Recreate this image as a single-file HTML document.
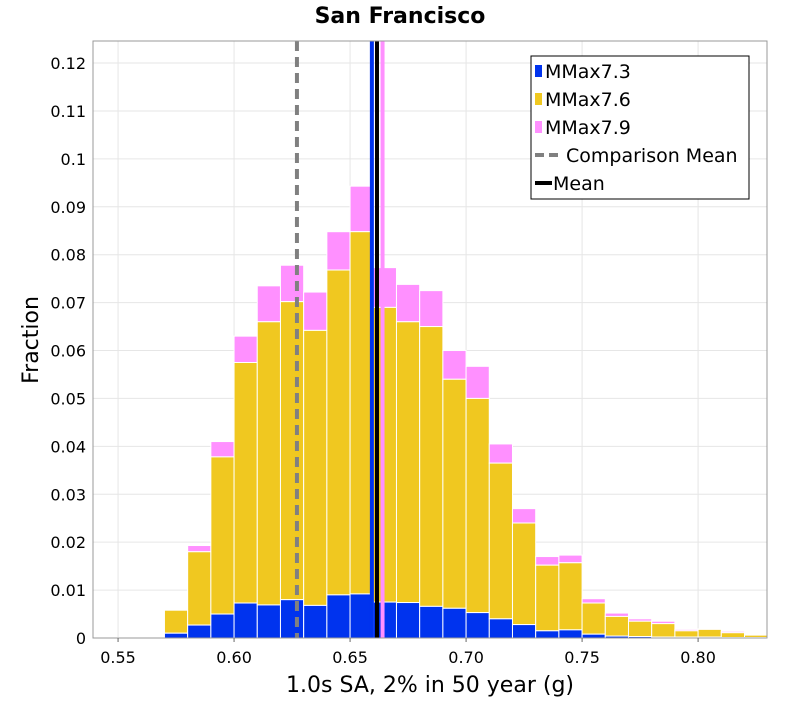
<!DOCTYPE html>
<html><head><meta charset="utf-8"><style>
body{margin:0;background:#fff;font-family:"DejaVu Sans","Liberation Sans",sans-serif;}
svg text{font-family:"DejaVu Sans","Liberation Sans",sans-serif;}
</style></head><body>
<svg id="chart" width="800" height="700" xmlns="http://www.w3.org/2000/svg">
<text x="400" y="23" text-anchor="middle" font-size="22" font-weight="bold">San Francisco</text>
<g id="grid"></g>
<g id="bars"></g>
<g id="lines"></g>
<rect x="93" y="41" width="674" height="597" fill="none" stroke="#999"/>
<g id="axes"></g>
<text x="430" y="692" text-anchor="middle" font-size="22">1.0s SA, 2% in 50 year (g)</text>
<text transform="translate(38,340) rotate(-90)" text-anchor="middle" font-size="22">Fraction</text>
<g>
<rect x="531" y="56" width="218" height="143" fill="#fff" stroke="#000"/>
<g id="legend"></g>
</g>
</svg>
<script>
const binCenters=[0.555,0.565,0.575,0.585,0.595,0.605,0.615,0.625,0.635,0.645,0.655,0.665,0.675,0.685,0.695,0.705,0.715,0.725,0.735,0.745,0.755,0.765,0.775,0.785,0.795,0.805,0.815,0.825];
const blueTop=[0,0,0.001,0.0027,0.005,0.0073,0.0069,0.008,0.0068,0.009,0.0092,0.0075,0.0074,0.0066,0.0062,0.0053,0.004,0.0028,0.0015,0.0017,0.0008,0.0004,0.0003,0.0002,0.0002,0.0002,0.0001,0.0001];
const goldTop=[0.0001,0.0002,0.0058,0.018,0.0378,0.0575,0.066,0.0702,0.0642,0.0768,0.0848,0.069,0.066,0.065,0.054,0.050,0.0365,0.024,0.0152,0.0157,0.0073,0.0045,0.0035,0.003,0.0015,0.0018,0.0011,0.0006];
const pinkTop=[0.0001,0.0003,0.006,0.0193,0.041,0.063,0.0735,0.0778,0.0722,0.0848,0.0943,0.0773,0.0738,0.0725,0.06,0.0567,0.0405,0.027,0.017,0.0173,0.0082,0.0052,0.004,0.0035,0.0018,0.0019,0.0014,0.0007];
const xTicks=[0.55,0.60,0.65,0.70,0.75,0.80];
const yTicks=[0,0.01,0.02,0.03,0.04,0.05,0.06,0.07,0.08,0.09,0.1,0.11,0.12];
const meanLines=[{name:"mmax73-mean",v:0.6594,c:"#0033ee"},{name:"mmax79-mean",v:0.664,c:"#ff90ff"},{name:"mean-line",v:0.6616,c:"#000"}];
const comparisonMean=0.6271;
const binWidth=0.01;
const NS="http://www.w3.org/2000/svg";
const X0=93,X1=767,Y0=638,Y1=41,xmin=0.5392,xmax=0.8297,ymax=0.1246;
const sx=v=>X0+(v-xmin)/(xmax-xmin)*(X1-X0);
const sy=v=>Y0-v/ymax*(Y0-Y1);
function mk(tag,attrs,parent){const e=document.createElementNS(NS,tag);for(const k in attrs)e.setAttribute(k,attrs[k]);parent.appendChild(e);return e;}
const grid=document.getElementById('grid'),axes=document.getElementById('axes');
xTicks.forEach(t=>{
 const l=mk('line',{x1:sx(t),x2:sx(t),y1:Y1,y2:Y0,stroke:'#e6e6e6'},grid);
 
 
 const tk=mk('line',{x1:sx(t),x2:sx(t),y1:Y0,y2:Y0+4,stroke:'#666'},axes);
 
 
 const tx=mk('text',{x:sx(t),y:Y0+25,'text-anchor':'middle','font-size':16},axes);
 tx.textContent=t.toFixed(2);
 
 
});
yTicks.forEach(t=>{
 const l=mk('line',{x1:X0,x2:X1,y1:sy(t),y2:sy(t),stroke:'#e6e6e6'},grid);
 
 
 const tx=mk('text',{x:X0-7,y:sy(t)+6,'text-anchor':'end','font-size':16},axes);
 tx.textContent=String(+t.toFixed(2));
 
 
});
const bars=document.getElementById('bars');
binCenters.forEach((c,i)=>{
 const xl=sx(c-binWidth/2),w=sx(c+binWidth/2)-xl;
 const p=mk('rect',{x:xl,y:sy(pinkTop[i]),width:w,height:sy(goldTop[i])-sy(pinkTop[i]),fill:'#ff90ff',stroke:'#fff','stroke-width':1},bars);
 
 
 const g=mk('rect',{x:xl,y:sy(goldTop[i]),width:w,height:sy(blueTop[i])-sy(goldTop[i]),fill:'#f0c820',stroke:'#fff','stroke-width':1},bars);
 
 
 const b=mk('rect',{x:xl,y:sy(blueTop[i]),width:w,height:Y0-sy(blueTop[i]),fill:'#0033ee',stroke:'#fff','stroke-width':1},bars);
 
 
});
const lines=document.getElementById('lines');
const cm=mk('line',{x1:sx(comparisonMean),x2:sx(comparisonMean),y1:Y1,y2:Y0,stroke:'#808080','stroke-width':4,'stroke-dasharray':'10,6'},lines);


meanLines.forEach(m=>{
 const l=mk('line',{x1:sx(m.v),x2:sx(m.v),y1:Y1,y2:Y0,stroke:m.c,'stroke-width':4},lines);
 
 
});
const legend=document.getElementById('legend');
const items=[["MMax7.3","#0033ee","box"],["MMax7.6","#f0c820","box"],["MMax7.9","#ff90ff","box"],["Comparison Mean","#808080","dash"],["Mean","#000","line"]];
items.forEach((it,i)=>{
 const y=71+i*28;
 const g=mk('g',{},legend);
 
 
 if(it[2]==='box')mk('rect',{x:535,y:y-6,width:7,height:12,fill:it[1]},g);
 else if(it[2]==='dash')mk('line',{x1:535,x2:562,y1:y,y2:y,stroke:it[1],'stroke-width':4,'stroke-dasharray':'9,5'},g);
 else mk('line',{x1:535,x2:552,y1:y,y2:y,stroke:it[1],'stroke-width':4},g);
 const tx=mk('text',{x:it[2]==='box'?545:(it[2]==='dash'?566:553),y:y+7,'font-size':19},g);
 tx.textContent=it[0];
});
</script>
</body></html>
